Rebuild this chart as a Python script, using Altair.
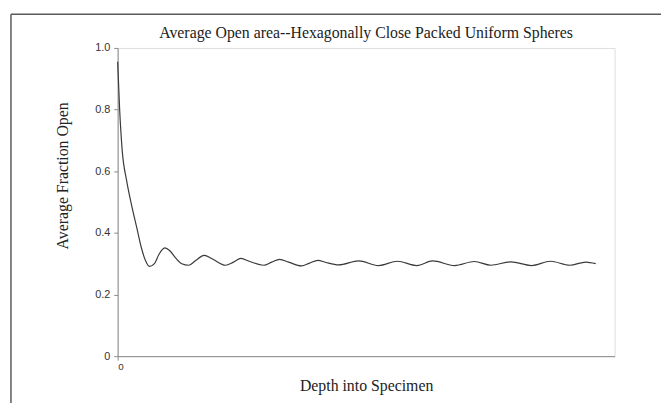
import altair as alt
import pandas as pd

# Depth (arbitrary units, axis spans 0..100) and average open fraction
depth = [0.0, 0.4, 0.9, 1.8, 2.8, 3.8, 4.8, 5.6, 6.4, 7.4, 8.3, 9.5, 10.5, 11.7, 12.9,
         14.3, 15.7, 17.4, 19.1, 21.7, 23.3, 24.8, 26.6, 29.4, 31.0, 32.6, 34.4, 37.0,
         38.6, 40.3, 41.9, 44.5, 48.5, 52.5, 56.3, 60.2, 63.4, 67.8, 71.8, 75.1, 79.1,
         83.3, 87.1, 91.0, 94.2, 96.2]
fraction = [0.955, 0.80, 0.67, 0.57, 0.49, 0.42, 0.35, 0.31, 0.291, 0.30, 0.33, 0.351,
            0.342, 0.318, 0.300, 0.295, 0.31, 0.327, 0.315, 0.295, 0.305, 0.317, 0.307,
            0.295, 0.305, 0.314, 0.305, 0.293, 0.302, 0.311, 0.304, 0.296, 0.309, 0.294,
            0.308, 0.294, 0.309, 0.294, 0.307, 0.295, 0.306, 0.294, 0.308, 0.295, 0.305,
            0.300]

y_ticks = [0, 0.2, 0.4, 0.6, 0.8, 1.0]
x_ticks = [0]

title_text = "Average Open area--Hexagonally Close Packed Uniform Spheres"
x_title = "Depth into Specimen"
y_title = "Average Fraction Open"

df = pd.DataFrame({"depth": depth, "fraction": fraction})
frame_df = pd.DataFrame({"k": [0]})

line = alt.Chart(df).mark_line(
    color="#3a3a3a", strokeWidth=1.2, interpolate="monotone"
).encode(
    x=alt.X("depth:Q",
            scale=alt.Scale(domain=[0, 100], nice=False, zero=False),
            axis=alt.Axis(values=x_ticks, title=x_title, grid=False,
                          domainColor="#8a8a8a", tickColor="#8a8a8a", tickSize=4,
                          labelFont="Liberation Sans", labelFontSize=10, labelColor="#333",
                          labelPadding=2,
                          titleFont="Liberation Serif", titleFontSize=16,
                          titleFontWeight="normal", titleColor="#222", titlePadding=6)),
    y=alt.Y("fraction:Q",
            scale=alt.Scale(domain=[0, 1.0], nice=False),
            axis=alt.Axis(values=y_ticks, title=y_title, grid=False,
                          labelExpr="datum.value == 0 ? '0' : format(datum.value, '.1f')",
                          domainColor="#8a8a8a", tickColor="#8a8a8a", tickSize=4,
                          labelFont="Liberation Sans", labelFontSize=11, labelColor="#333",
                          labelPadding=4,
                          titleFont="Liberation Serif", titleFontSize=16,
                          titleFontWeight="normal", titleColor="#222",
                          titleX=-48, titleY=129)),
)

frame_left = alt.Chart(frame_df).mark_rule(color="#5a5a5a", strokeWidth=1.5).encode(
    x=alt.value(-108), y=alt.value(-34), y2=alt.value(390)
)
frame_top = alt.Chart(frame_df).mark_rule(color="#5a5a5a", strokeWidth=1.5).encode(
    x=alt.value(-108), x2=alt.value(552), y=alt.value(-34)
)

chart = alt.layer(frame_left, frame_top, line).properties(
    width=503,
    height=312,
    title=alt.TitleParams(title_text, font="Liberation Serif", fontSize=16,
                          fontWeight="normal", color="#222", anchor="middle", offset=-28),
    autosize=alt.AutoSizeParams(type="none"),
    padding={"left": 111, "top": 38, "right": 47, "bottom": 45},
).configure_view(stroke="#9a9a9a", strokeWidth=1).configure(background="white")

chart.save("out.html", embed_options={"renderer": "svg", "actions": False})
